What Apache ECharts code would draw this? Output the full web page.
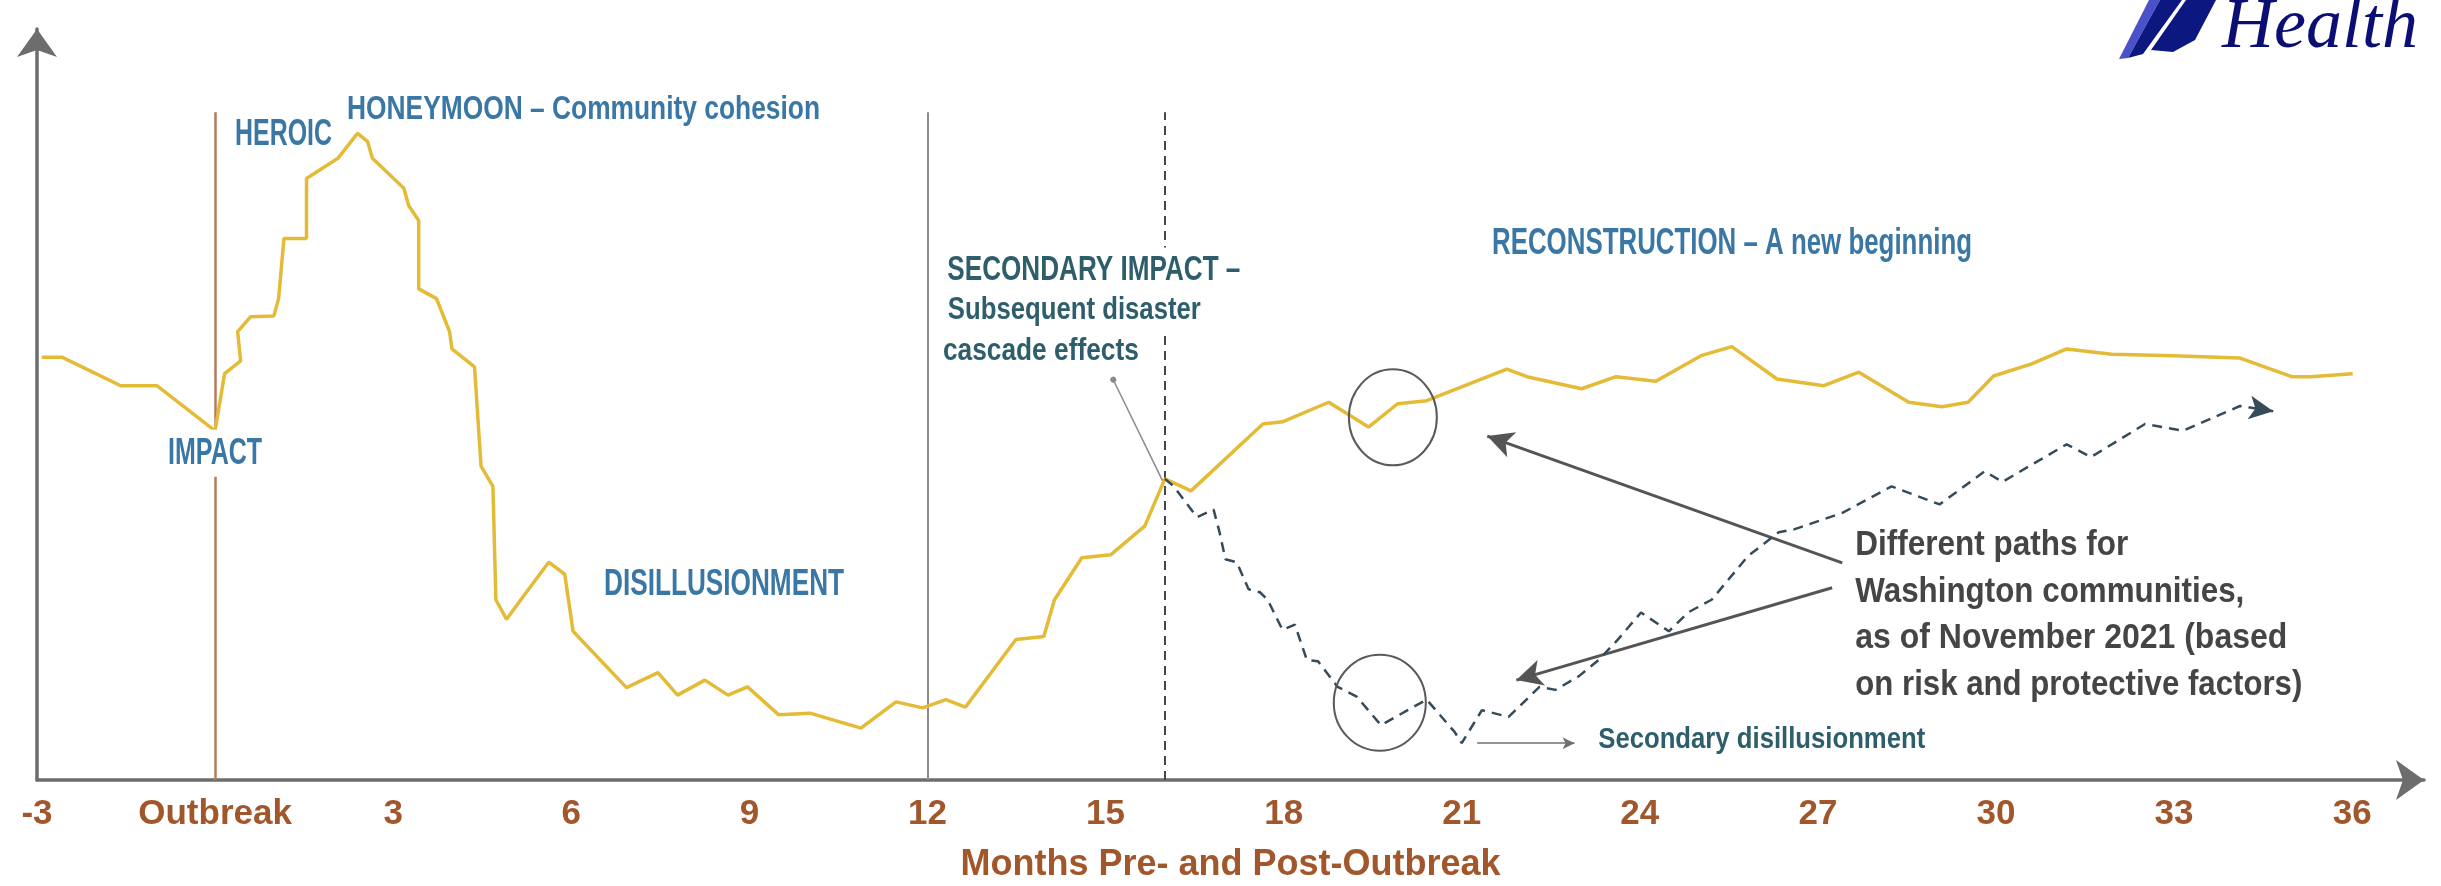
<!DOCTYPE html>
<html><head><meta charset="utf-8">
<script src="https://cdn.jsdelivr.net/npm/echarts@6/dist/echarts.min.js"></script>
<style>html,body{margin:0;padding:0;background:#fff;}#c{width:2441px;height:886px;}</style>
</head><body><div id="c"></div>
<script>
// ---- data (x = months, y = relative level 0..100) ----
const tickMonths = [-3, 0, 3, 6, 9, 12, 15, 18, 21, 24, 27, 30, 33, 36];
const tickText = ['-3', 'Outbreak', '3', '6', '9', '12', '15', '18', '21', '24', '27', '30', '33', '36'];

const mainMonths = [-2.92, -2.58, -1.59, -0.98, 0.0, 0.16, 0.43, 0.38, 0.60, 0.99, 1.07, 1.16, 1.54, 1.54, 2.07, 2.40, 2.57, 2.65, 3.18, 3.26, 3.43, 3.43, 3.73, 3.95, 3.99, 4.37, 4.48, 4.68, 4.73, 4.91, 5.15, 5.62, 5.89, 6.03, 6.93, 7.46, 7.79, 8.25, 8.64, 8.97, 9.49, 10.02, 10.88, 11.47, 11.92, 12.31, 12.64, 13.49, 13.96, 14.14, 14.60, 15.09, 15.66, 16.00, 16.44, 17.65, 17.98, 18.76, 19.43, 19.92, 20.41, 21.76, 22.10, 23.02, 23.60, 24.27, 25.03, 25.55, 26.31, 27.10, 27.69, 28.53, 29.09, 29.53, 29.96, 30.60, 31.19, 31.95, 32.99, 34.10, 34.98, 35.30, 36.01];
const mainValues = [56.3, 56.3, 52.5, 52.5, 46.5, 54.1, 55.8, 59.7, 61.7, 61.8, 64.1, 72.1, 72.1, 80.1, 82.8, 86.1, 85.0, 82.8, 78.8, 76.5, 74.5, 65.4, 64.1, 59.7, 57.4, 55.0, 41.8, 39.1, 24.0, 21.4, 24.0, 29.0, 27.4, 19.8, 12.3, 14.3, 11.3, 13.3, 11.3, 12.4, 8.7, 8.9, 6.9, 10.4, 9.6, 10.7, 9.7, 18.7, 19.1, 24.0, 29.6, 30.0, 33.8, 40.1, 38.5, 47.4, 47.7, 50.3, 47.0, 50.1, 50.5, 54.7, 53.7, 52.1, 53.7, 53.1, 56.5, 57.7, 53.4, 52.5, 54.3, 50.3, 49.7, 50.3, 53.8, 55.4, 57.4, 56.7, 56.5, 56.2, 53.7, 53.7, 54.1];

const altMonths = [16.00, 16.15, 16.54, 16.82, 16.92, 17.02, 17.21, 17.41, 17.60, 17.73, 17.98, 18.19, 18.39, 18.58, 18.91, 19.23, 19.64, 20.09, 20.41, 20.88, 21.00, 21.34, 21.79, 22.31, 22.58, 22.97, 23.31, 23.63, 24.02, 24.49, 24.81, 25.21, 25.82, 26.34, 26.61, 27.42, 28.24, 29.05, 29.81, 30.11, 31.19, 31.60, 32.51, 33.15, 34.11, 34.67];
const altValues = [40.1, 39.1, 35.0, 36.0, 33.0, 29.4, 29.0, 25.4, 25.0, 24.0, 20.0, 20.7, 16.0, 15.8, 12.4, 11.1, 7.3, 9.3, 10.7, 6.4, 4.9, 9.3, 8.4, 12.4, 12.0, 13.8, 16.0, 18.7, 22.3, 19.8, 22.3, 24.0, 29.8, 33.0, 33.4, 35.6, 39.1, 36.7, 41.1, 39.7, 44.7, 43.0, 47.4, 46.5, 49.8, 49.1];

const phaseMonths = [0, 12, 16];
const phaseTop = 88.9;

// ---- styles ----
const BLUE = '#3a77a5';
const TEAL = '#2e5e6c';
const GRAY_TXT = '#454545';
const AXIS = '#6d6d6d';
const BROWN = '#a2562b';
const NARROW = '"Liberation Sans Narrow", "Liberation Sans", sans-serif';

const chart = echarts.init(document.getElementById('c'), null, {renderer: 'canvas'});

const mainData = mainMonths.map((m, i) => [m, mainValues[i]]);
const altData = altMonths.map((m, i) => [m, altValues[i]]);

function labelFor(v) {
  const r = Math.round(v);
  if (Math.abs(v - r) > 1e-6) return '';
  const i = tickMonths.indexOf(r);
  return i >= 0 ? tickText[i] : '';
}

const phaseStyles = [
  {color: '#b37b5d', width: 2.5, type: 'solid'},
  {color: '#8c8c8c', width: 2, type: 'solid'},
  {color: '#474747', width: 2, type: [9, 6]}
];

const markLines = phaseMonths.map((m, i) => [
  {coord: [m, 0], symbol: 'none', lineStyle: phaseStyles[i]},
  {coord: [m, phaseTop], symbol: 'none'}
]);
// pointer from "Subsequent disaster cascade effects"
markLines.push([
  {coord: [15.13, 53.3], symbol: 'circle', symbolSize: 6, lineStyle: {color: '#8a8a8a', width: 1.5, type: 'solid'}},
  {coord: [15.97, 39.7], symbol: 'none'}
]);
// arrows from "Different paths ..." text
markLines.push([
  {coord: [27.41, 28.9], symbol: 'none', lineStyle: {color: '#555', width: 3, type: 'solid'}},
  {coord: [21.43, 45.8], symbol: 'arrow', symbolSize: [20, 26]}
]);
markLines.push([
  {coord: [27.24, 25.6], symbol: 'none', lineStyle: {color: '#555', width: 3, type: 'solid'}},
  {coord: [21.92, 13.3], symbol: 'arrow', symbolSize: [20, 26]}
]);
// pointer to "Secondary disillusionment"
markLines.push([
  {coord: [21.26, 4.9], symbol: 'none', lineStyle: {color: '#707070', width: 1.5, type: 'solid'}},
  {coord: [22.90, 4.9], symbol: 'arrow', symbolSize: [9, 12]}
]);

const option = {
  animation: false,
  backgroundColor: '#fff',
  grid: {left: 37, right: 17, top: 29, bottom: 106, containLabel: false, outerBoundsMode: 'none'},
  xAxis: {
    type: 'value', min: -3, max: 37.21, interval: 3,
    axisLine: {show: true, onZero: false, symbol: ['none', 'arrow'], symbolSize: [30, 28], lineStyle: {color: AXIS, width: 3.5}},
    axisTick: {show: false},
    splitLine: {show: false},
    axisLabel: {
      show: true, margin: 17, color: BROWN,
      fontFamily: '"Liberation Sans", Arial, sans-serif', fontWeight: 'bold', fontSize: 35,
      formatter: labelFor, showMaxLabel: false
    },
    name: 'Months Pre- and Post-Outbreak', nameLocation: 'middle', nameGap: 67,
    nameTextStyle: {color: BROWN, fontFamily: '"Liberation Sans", Arial, sans-serif', fontWeight: 'bold', fontSize: 36}
  },
  yAxis: {
    type: 'value', min: 0, max: 100,
    axisLine: {show: true, onZero: false, symbol: ['none', 'arrow'], symbolSize: [30, 28], lineStyle: {color: AXIS, width: 3.5}},
    axisTick: {show: false}, axisLabel: {show: false}, splitLine: {show: false}
  },
  series: [
    {
      type: 'line', data: mainData, symbol: 'none', z: 3,
      lineStyle: {color: '#e4bb37', width: 3.5}, itemStyle: {color: '#e4bb37'},
      markLine: {silent: true, symbol: ['none', 'none'], label: {show: false}, data: markLines, z: 2}
    },
    {
      type: 'line', data: altData, symbol: 'none', showAllSymbol: true, z: 4,
      lineStyle: {color: '#364b59', width: 2.5, type: [10, 7]}, itemStyle: {color: '#364b59'}
    }
  ]
};
chart.setOption(option);

// arrowhead at the end of the dashed path
(function () {
  const n = altData.length;
  const p1 = chart.convertToPixel({gridIndex: 0}, altData[n - 2]);
  const p2 = chart.convertToPixel({gridIndex: 0}, altData[n - 1]);
  const ang = Math.atan2(p2[1] - p1[1], p2[0] - p1[0]) * 180 / Math.PI;
  const data = altData.slice();
  data[n - 1] = {value: altData[n - 1], symbol: 'arrow', symbolSize: [18, 24], symbolRotate: -90 - ang};
  chart.setOption({series: [{}, {data: data}]});
})();

// ---- annotations placed in data coordinates ----
const measure = document.createElement('canvas').getContext('2d');
function px(m, v) { return chart.convertToPixel({gridIndex: 0}, [m, v]); }

const notes = [
  {t: 'HEROIC', m: 0.336, v: 85.9, size: 36, w: 97, color: BLUE},
  {t: 'HONEYMOON \u2013 Community cohesion', m: 2.222, v: 89.2, size: 34, w: 473, color: BLUE},
  {t: 'IMPACT', m: 0, v: 43.5, size: 37, w: 94, color: BLUE, align: 'center', bg: true},
  {t: 'DISILLUSIONMENT', m: 6.552, v: 26.0, size: 36, w: 240, color: BLUE},
  {t: 'SECONDARY IMPACT \u2013', m: 12.26, v: 67.9, size: 35, w: 293, color: TEAL, bg: true},
  {t: 'Subsequent disaster', m: 12.26, v: 62.5, size: 31, w: 253, color: TEAL, bg: true},
  {t: 'cascade effects', m: 12.26, v: 57.0, size: 31, w: 196, color: TEAL},
  {t: 'RECONSTRUCTION \u2013 A new beginning', m: 21.51, v: 71.4, size: 37, w: 480, color: BLUE},
  {t: 'Different paths for', m: 27.63, v: 31.2, size: 35, w: 273, color: GRAY_TXT},
  {t: 'Washington communities,', m: 27.63, v: 25.0, size: 35, w: 389, color: GRAY_TXT},
  {t: 'as of November 2021 (based', m: 27.63, v: 18.9, size: 35, w: 432, color: GRAY_TXT},
  {t: 'on risk and protective factors)', m: 27.63, v: 12.6, size: 35, w: 447, color: GRAY_TXT},
  {t: 'Secondary disillusionment', m: 23.30, v: 5.3, size: 30, w: 327, color: TEAL}
];

const circles = [
  {m: 19.84, v: 48.3, rx: 44, ry: 48},
  {m: 19.62, v: 10.3, rx: 46, ry: 48}
];

const elements = [];
notes.forEach(n => {
  const font = 'bold ' + n.size + 'px ' + NARROW;
  measure.font = font;
  const sx = n.w / measure.measureText(n.t).width;
  const p = px(n.m, n.v);
  const style = {text: n.t, font: font, fill: n.color, align: n.align || 'left', verticalAlign: 'middle'};
  if (n.bg) { style.backgroundColor = '#fff'; style.padding = [6, 6, 4, 6]; }
  elements.push({type: 'text', x: p[0], y: p[1], scaleX: sx, z: 100, silent: true, style: style});
});
circles.forEach(c => {
  const p = px(c.m, c.v);
  elements.push({type: 'ellipse', z: 100, silent: true, shape: {cx: p[0], cy: p[1], rx: c.rx, ry: c.ry},
    style: {fill: 'none', stroke: '#5a5a5a', lineWidth: 2}});
});

// logo, top right
const W = chart.getWidth();
elements.push({type: 'polygon', z: 100, silent: true, shape: {points: [[W - 322, 59], [W - 313, 58], [W - 281, 0], [W - 292, 0]]}, style: {fill: '#4b52c9'}});
elements.push({type: 'polygon', z: 100, silent: true, shape: {points: [[W - 313, 58], [W - 298, 54], [W - 259, 0], [W - 281, 0]]}, style: {fill: '#0c1780'}});
elements.push({type: 'polygon', z: 100, silent: true, shape: {points: [[W - 290, 50], [W - 268, 52], [W - 246, 40], [W - 225, 0], [W - 255, 0]]}, style: {fill: '#0c1780'}});
elements.push({type: 'text', z: 100, silent: true, x: W - 219, y: 28,
  style: {text: 'Health', font: 'italic 72px "Liberation Serif", "Times New Roman", serif', fill: '#0b0f74', align: 'left', verticalAlign: 'middle'}});

chart.setOption({graphic: {elements: elements}});
</script>
</body></html>
